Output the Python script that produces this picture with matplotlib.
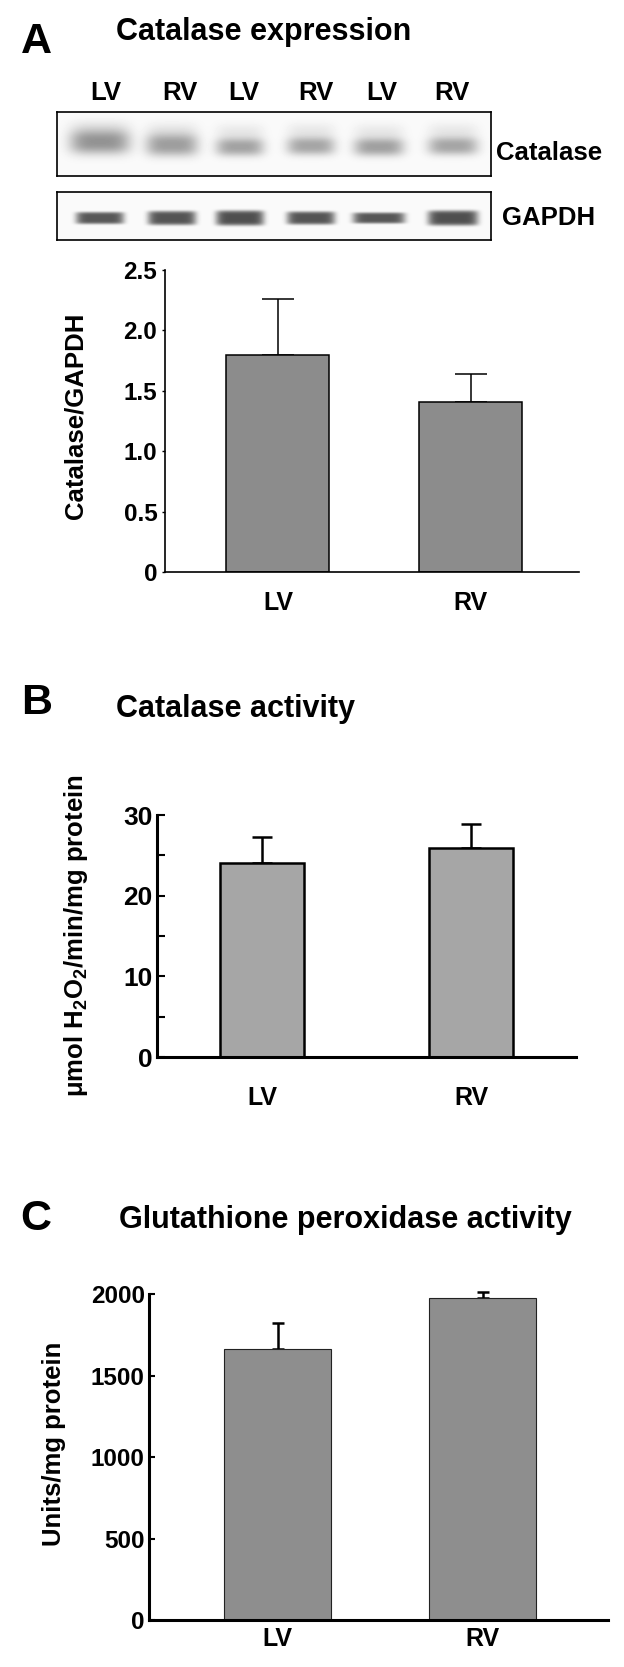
import matplotlib
matplotlib.use('Agg')
import matplotlib.pyplot as plt
import numpy as np

plt.rcParams['font.family'] = ['Liberation Sans', 'DejaVu Sans']
plt.rcParams['font.weight'] = 'bold'
plt.rcParams['mathtext.fontset'] = 'custom'
plt.rcParams['mathtext.rm'] = 'Liberation Sans:bold'
plt.rcParams['mathtext.default'] = 'rm'

# data
groups = ['LV', 'RV']
lane_labels = ['LV', 'RV', 'LV', 'RV', 'LV', 'RV']
catalase_density = [0.40, 0.36, 0.34, 0.33, 0.35, 0.33]
gapdh_density = [0.64, 0.65, 0.67, 0.65, 0.64, 0.67]

expr_mean = [1.80, 1.41]
expr_err = [0.46, 0.23]
act_mean = [24.0, 25.9]
act_err = [3.3, 3.0]
gpx_mean = [1660, 1975]
gpx_err = [165, 40]

W, H = 624, 1667
fig = plt.figure(figsize=(W / 100, H / 100), dpi=100)


def rect(l, t, r, b):
    return [l / W, 1 - b / H, (r - l) / W, (b - t) / H]


def ftext(x, y, s, **kw):
    fig.text(x / W, 1 - y / H, s, **kw)


# ---- panel A: western blot strips
lane_x = [100, 172, 240, 311, 379, 453]
cat_w = [30, 26, 24, 24, 25, 25]
cat_h = [12, 11, 9, 9, 9, 9]
cat_y = [142, 145, 147, 146, 147, 146]
gap_w = [24, 24, 24, 24, 26, 25]
gap_h = [6, 7, 7.5, 6.5, 5.5, 7.5]


def blot(top, bottom, density, widths, heights, cys, smear, px, py):
    ax = fig.add_axes(rect(57, top, 491, bottom))
    xx, yy = np.meshgrid(np.arange(57, 491) + 0.5, np.arange(top, bottom) + 0.5)
    img = np.full(xx.shape, 0.98)
    for cx, cy, d, w, h in zip(lane_x, cys, density, widths, heights):
        core = np.exp(-np.abs((xx - cx) / w) ** px - np.abs((yy - cy) / h) ** py)
        img -= d * core
        if smear:
            img -= 0.07 * np.exp(-np.abs((xx - cx) / w) ** 4 - ((yy - cy + 15) / 8) ** 2)
    ax.imshow(np.clip(img, 0, 1), cmap='gray', vmin=0, vmax=1, aspect='auto',
              extent=(57, 491, bottom, top), interpolation='bilinear')
    ax.set_xticks([])
    ax.set_yticks([])
    for s in ax.spines.values():
        s.set_linewidth(1.2)
    return ax


blot(112, 176, catalase_density, cat_w, cat_h, cat_y, True, 4, 2.5)
blot(192, 240, gapdh_density, gap_w, gap_h, [218] * 6, False, 7, 5)

for cx, lab in zip([106, 180, 244, 316, 382, 452], lane_labels):
    ftext(cx, 100, lab, ha='center', va='baseline', fontsize=18.5, fontweight='bold')
ftext(496, 153, 'Catalase', ha='left', va='center', fontsize=18.5, fontweight='bold')
ftext(502, 218, 'GAPDH', ha='left', va='center', fontsize=18.5, fontweight='bold')

ftext(21, 53, 'A', ha='left', va='baseline', fontsize=31, fontweight='bold')
ftext(116, 40, 'Catalase expression', ha='left', va='baseline', fontsize=22, fontweight='bold')
ftext(21, 714, 'B', ha='left', va='baseline', fontsize=31, fontweight='bold')
ftext(116, 717, 'Catalase activity', ha='left', va='baseline', fontsize=22, fontweight='bold')
ftext(20, 1230, 'C', ha='left', va='baseline', fontsize=31, fontweight='bold')
ftext(119, 1228, 'Glutathione peroxidase activity', ha='left', va='baseline', fontsize=22,
      fontweight='bold')


def bar_panel(box, means, errs, xlim, width, ylim, yticks, ticklabels, color, edge_lw, edge_col,
              err_lw, cap, spine_lw, tdir, tlen, twidth, tsize, xpad, minor=None):
    ax = fig.add_axes(rect(*box))
    x = np.arange(len(groups))
    ax.bar(x, means, width, color=color, edgecolor=edge_col, linewidth=edge_lw, zorder=2)
    eb = ax.errorbar(x, means, yerr=[np.zeros(len(errs)), errs], fmt='none', ecolor='black',
                     elinewidth=err_lw, capsize=cap, capthick=err_lw, zorder=1)
    for art in eb.lines[1] + eb.lines[2]:
        art.set_clip_on(False)
    ax.set_xlim(*xlim)
    ax.set_ylim(*ylim)
    ax.set_xticks(x, groups)
    ax.set_yticks(yticks, ticklabels)
    if minor is not None:
        ax.set_yticks(minor, minor=True)
    ax.tick_params(axis='x', length=0, pad=xpad, labelsize=18)
    ax.tick_params(axis='y', which='both', direction=tdir, length=tlen, width=twidth,
                   labelsize=tsize, pad=3)
    for lab in ax.get_xticklabels() + ax.get_yticklabels():
        lab.set_fontweight('bold')
    ax.spines['top'].set_visible(False)
    ax.spines['right'].set_visible(False)
    ax.spines['left'].set_linewidth(spine_lw)
    ax.spines['bottom'].set_linewidth(spine_lw)
    ax.spines['left'].set_zorder(3)
    ax.spines['bottom'].set_zorder(3)
    return ax


bar_panel((165, 270, 579, 572), expr_mean, expr_err, (-0.585, 1.56), 0.534, (0, 2.5),
          [0, 0.5, 1.0, 1.5, 2.0, 2.5], ['0', '0.5', '1.0', '1.5', '2.0', '2.5'],
          '#8c8c8c', 1.1, 'black', 1.1, 11.5, 1.2, 'out', 2.5, 1.0, 17.5, 14)
ftext(75, 416, 'Catalase/GAPDH', rotation=90, ha='center', va='center', fontsize=18.5,
      fontweight='bold')

bar_panel((157, 815, 576, 1057), act_mean, act_err, (-0.502, 1.502), 0.40, (0, 30),
          [0, 10, 20, 30], ['0', '10', '20', '30'],
          '#a6a6a6', 1.8, 'black', 1.8, 7, 2.2, 'in', 6, 1.5, 19, 21, minor=[5, 15, 25])
ftext(76, 936, r'μmol H$_2$O$_2$/min/mg protein', rotation=90, ha='center', va='center',
      fontsize=18.5, fontweight='bold')

bar_panel((149, 1294, 608, 1620), gpx_mean, gpx_err, (-0.627, 1.612), 0.522, (0, 2000),
          [0, 500, 1000, 1500, 2000], ['0', '500', '1000', '1500', '2000'],
          '#8e8e8e', 0.8, '#222222', 1.8, 4, 2.2, 'in', 4.5, 1.5, 17.5, 5)
ftext(54, 1444, 'Units/mg protein', rotation=90, ha='center', va='center', fontsize=18.5,
      fontweight='bold')

fig.savefig('out.png', dpi=100, facecolor='white')
